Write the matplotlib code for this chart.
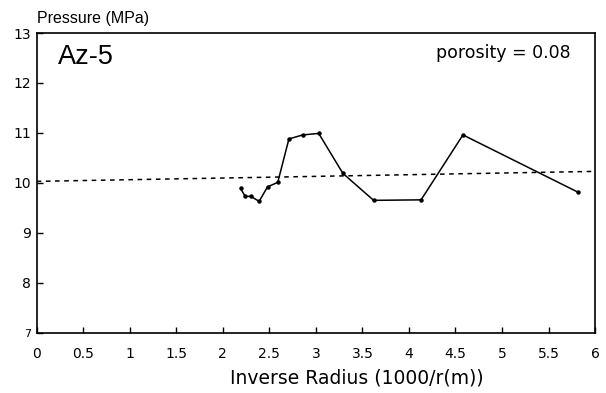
import matplotlib
matplotlib.use('Agg')
import matplotlib.pyplot as plt

plt.rcParams['font.family'] = ['DejaVu Sans']

# measured pressure vs inverse radius
inv_radius = [2.19, 2.24, 2.30, 2.39, 2.48, 2.59, 2.71, 2.86, 3.03, 3.29, 3.62, 4.13, 4.58, 5.82]
pressure = [9.89, 9.73, 9.73, 9.63, 9.92, 10.01, 10.88, 10.96, 10.99, 10.19, 9.65, 9.66, 10.96, 9.81]

# fitted trend line
fit_x = [0, 6]
fit_y = [10.03, 10.23]

xticks = [0, 0.5, 1, 1.5, 2, 2.5, 3, 3.5, 4, 4.5, 5, 5.5, 6]
xtick_labels = ['0', '0.5', '1', '1.5', '2', '2.5', '3', '3.5', '4', '4.5', '5', '5.5', '6']
yticks = [7, 8, 9, 10, 11, 12, 13]

fig = plt.figure(figsize=(6.06, 3.93), dpi=100)
ax = fig.add_axes([0.0606, 0.1534, 0.9214, 0.7626])

ax.plot(fit_x, fit_y, color='black', linestyle=(0, (3, 3)), linewidth=1.1)
ax.plot(inv_radius, pressure, color='black', linewidth=1.1, marker='o', markersize=2.2)

ax.set_xlim(0, 6)
ax.set_ylim(7, 13)
ax.set_xticks(xticks)
ax.set_xticklabels(xtick_labels)
ax.set_yticks(yticks)
ax.tick_params(direction='in', length=4, width=1, labelsize=10)
ax.tick_params(axis='x', pad=10)
ax.tick_params(axis='y', pad=4)
ax.get_yticklabels()[0].set_fontsize(8)
for s in ax.spines.values():
    s.set_linewidth(1.2)

ax.set_xlabel('Inverse Radius (1000/r(m))', fontsize=13.5)
ax.xaxis.set_label_coords(0.573, -0.15)
ax.xaxis.label.set_va('center')
ax.text(0, 1.025, 'Pressure (MPa)', transform=ax.transAxes, fontsize=11.5,
        ha='left', va='bottom', family='Liberation Sans')
ax.text(0.038, 0.92, 'Az-5', transform=ax.transAxes, fontsize=19.5, ha='left',
        va='center', family='Liberation Sans')
ax.text(0.956, 0.933, 'porosity = 0.08', transform=ax.transAxes, fontsize=12.5,
        ha='right', va='center')

fig.savefig('out.png', dpi=100)
